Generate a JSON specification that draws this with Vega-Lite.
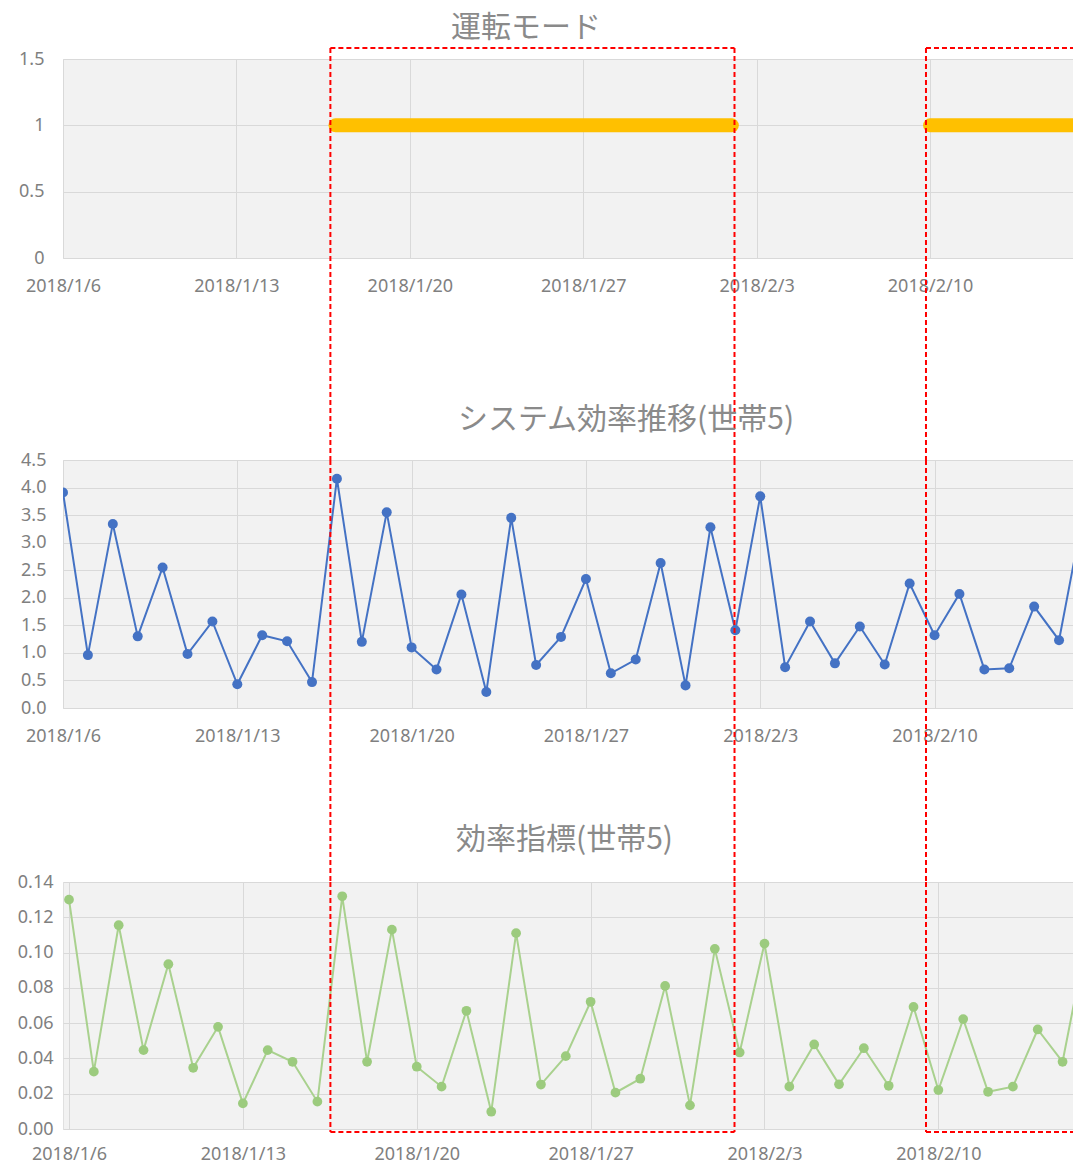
{
  "$schema": "https://vega.github.io/schema/vega-lite/v6.json",
  "padding": {"left": 0, "top": 12, "right": 0, "bottom": 0},
  "background": "white",
  "config": {
    "view": {"fill": "#f2f2f2", "stroke": "#e0e0e0"},
    "axis": {
      "domain": false, "ticks": false, "gridColor": "#d9d9d9", "gridWidth": 1,
      "labelColor": "#808080", "labelFont": "Noto Sans", "labelFontSize": 18,
      "title": null, "labelOverlap": false
    },
    "title": {"font": "Noto Sans CJK JP", "fontSize": 30, "fontWeight": "normal", "color": "#8a8a8a", "anchor": "start"}
  },
  "datasets": {
    "mode": [
      {"date": "2018/01/17", "mode": 1, "run": "a"},
      {"date": "2018/01/18", "mode": 1, "run": "a"},
      {"date": "2018/01/19", "mode": 1, "run": "a"},
      {"date": "2018/01/20", "mode": 1, "run": "a"},
      {"date": "2018/01/21", "mode": 1, "run": "a"},
      {"date": "2018/01/22", "mode": 1, "run": "a"},
      {"date": "2018/01/23", "mode": 1, "run": "a"},
      {"date": "2018/01/24", "mode": 1, "run": "a"},
      {"date": "2018/01/25", "mode": 1, "run": "a"},
      {"date": "2018/01/26", "mode": 1, "run": "a"},
      {"date": "2018/01/27", "mode": 1, "run": "a"},
      {"date": "2018/01/28", "mode": 1, "run": "a"},
      {"date": "2018/01/29", "mode": 1, "run": "a"},
      {"date": "2018/01/30", "mode": 1, "run": "a"},
      {"date": "2018/01/31", "mode": 1, "run": "a"},
      {"date": "2018/02/01", "mode": 1, "run": "a"},
      {"date": "2018/02/02", "mode": 1, "run": "a"},
      {"date": "2018/02/10", "mode": 1, "run": "b"},
      {"date": "2018/02/11", "mode": 1, "run": "b"},
      {"date": "2018/02/12", "mode": 1, "run": "b"},
      {"date": "2018/02/13", "mode": 1, "run": "b"},
      {"date": "2018/02/14", "mode": 1, "run": "b"},
      {"date": "2018/02/15", "mode": 1, "run": "b"},
      {"date": "2018/02/16", "mode": 1, "run": "b"}
    ],
    "eff": [
      {"date": "2018/01/06", "system": 3.91, "index": 0.130},
      {"date": "2018/01/07", "system": 0.96, "index": 0.0325},
      {"date": "2018/01/08", "system": 3.34, "index": 0.1155},
      {"date": "2018/01/09", "system": 1.30, "index": 0.0447},
      {"date": "2018/01/10", "system": 2.55, "index": 0.0934},
      {"date": "2018/01/11", "system": 0.98, "index": 0.0347},
      {"date": "2018/01/12", "system": 1.57, "index": 0.0579},
      {"date": "2018/01/13", "system": 0.43, "index": 0.0145},
      {"date": "2018/01/14", "system": 1.32, "index": 0.0447},
      {"date": "2018/01/15", "system": 1.21, "index": 0.0381},
      {"date": "2018/01/16", "system": 0.47, "index": 0.0155},
      {"date": "2018/01/17", "system": 4.16, "index": 0.1319},
      {"date": "2018/01/18", "system": 1.20, "index": 0.0381},
      {"date": "2018/01/19", "system": 3.55, "index": 0.113},
      {"date": "2018/01/20", "system": 1.10, "index": 0.0353},
      {"date": "2018/01/21", "system": 0.70, "index": 0.024},
      {"date": "2018/01/22", "system": 2.06, "index": 0.067},
      {"date": "2018/01/23", "system": 0.29, "index": 0.0098},
      {"date": "2018/01/24", "system": 3.45, "index": 0.111},
      {"date": "2018/01/25", "system": 0.78, "index": 0.0252},
      {"date": "2018/01/26", "system": 1.29, "index": 0.0413},
      {"date": "2018/01/27", "system": 2.34, "index": 0.0721},
      {"date": "2018/01/28", "system": 0.63, "index": 0.0206},
      {"date": "2018/01/29", "system": 0.88, "index": 0.0285},
      {"date": "2018/01/30", "system": 2.63, "index": 0.0811},
      {"date": "2018/01/31", "system": 0.41, "index": 0.0134},
      {"date": "2018/02/01", "system": 3.28, "index": 0.1021},
      {"date": "2018/02/02", "system": 1.41, "index": 0.0434},
      {"date": "2018/02/03", "system": 3.84, "index": 0.1051},
      {"date": "2018/02/04", "system": 0.74, "index": 0.024},
      {"date": "2018/02/05", "system": 1.57, "index": 0.0479},
      {"date": "2018/02/06", "system": 0.81, "index": 0.0253},
      {"date": "2018/02/07", "system": 1.48, "index": 0.0458},
      {"date": "2018/02/08", "system": 0.79, "index": 0.0245},
      {"date": "2018/02/09", "system": 2.26, "index": 0.0692},
      {"date": "2018/02/10", "system": 1.32, "index": 0.0221},
      {"date": "2018/02/11", "system": 2.07, "index": 0.0623},
      {"date": "2018/02/12", "system": 0.70, "index": 0.0211},
      {"date": "2018/02/13", "system": 0.72, "index": 0.024},
      {"date": "2018/02/14", "system": 1.84, "index": 0.0564},
      {"date": "2018/02/15", "system": 1.23, "index": 0.0381},
      {"date": "2018/02/16", "system": 3.6, "index": 0.11}
    ],
    "box_top_v": [
      {"date": "2018/01/16 19:03"},
      {"date": "2018/02/02 02:33"},
      {"date": "2018/02/09 20:04"}
    ],
    "box_top_h": [
      {"from": "2018/01/16 19:03", "to": "2018/02/02 02:33"},
      {"from": "2018/02/09 20:04", "to": "2018/02/15 18:30"}
    ],
    "box_mid_v": [
      {"date": "2018/01/16 17:43"},
      {"date": "2018/02/01 23:13"},
      {"date": "2018/02/09 15:46"}
    ],
    "box_bot_v": [
      {"date": "2018/01/16 12:34"},
      {"date": "2018/02/01 19:01"},
      {"date": "2018/02/09 12:03"}
    ],
    "box_bot_h": [
      {"from": "2018/01/16 12:34", "to": "2018/02/01 19:01"},
      {"from": "2018/02/09 12:03", "to": "2018/02/15 10:05"}
    ]
  },
  "bounds": "flush",
  "spacing": 202,
  "vconcat": [
    {
      "title": {"text": "運転モード", "dx": 450, "offset": 4},
      "width": 1010,
      "height": 199,
      "layer": [
        {
          "data": {"name": "mode"},
          "mark": {"type": "line", "color": "#ffc000", "strokeWidth": 14, "strokeCap": "round", "clip": true},
          "encoding": {
            "x": {
              "field": "date", "type": "temporal",
              "scale": {"domain": [{"year": 2018, "month": 1, "date": 6}, {"year": 2018, "month": 2, "date": 15, "hours": 18, "minutes": 30}], "nice": false},
              "axis": {
                "format": "%Y/%-m/%-d", "labelFlush": false, "labelPadding": 19,
                "values": [{"year": 2018, "month": 1, "date": 6}, {"year": 2018, "month": 1, "date": 13}, {"year": 2018, "month": 1, "date": 20}, {"year": 2018, "month": 1, "date": 27}, {"year": 2018, "month": 2, "date": 3}, {"year": 2018, "month": 2, "date": 10}]
              }
            },
            "y": {
              "field": "mode", "type": "quantitative",
              "scale": {"domain": [0, 1.5], "nice": false},
              "axis": {"values": [0, 0.5, 1, 1.5], "format": "~g", "labelPadding": 19, "minExtent": 62, "maxExtent": 62}
            },
            "detail": {"field": "run"}
          }
        },
        {
          "data": {"name": "box_top_v"},
          "mark": {"type": "rule", "color": "#ff0000", "strokeWidth": 2, "strokeDash": [5, 3]},
          "encoding": {
            "x": {"field": "date", "type": "temporal", "axis": {"format": "%Y/%-m/%-d", "labelFlush": false, "labelPadding": 19, "values": [{"year": 2018, "month": 1, "date": 6}, {"year": 2018, "month": 1, "date": 13}, {"year": 2018, "month": 1, "date": 20}, {"year": 2018, "month": 1, "date": 27}, {"year": 2018, "month": 2, "date": 3}, {"year": 2018, "month": 2, "date": 10}]}},
            "y": {"datum": 1.583, "type": "quantitative", "axis": {"values": [0, 0.5, 1, 1.5], "format": "~g", "labelPadding": 19, "minExtent": 62, "maxExtent": 62}},
            "y2": {"datum": -1.523}
          }
        },
        {
          "data": {"name": "box_top_h"},
          "mark": {"type": "rule", "color": "#ff0000", "strokeWidth": 2, "strokeDash": [5, 3]},
          "encoding": {
            "x": {"field": "from", "type": "temporal", "axis": {"format": "%Y/%-m/%-d", "labelFlush": false, "labelPadding": 19, "values": [{"year": 2018, "month": 1, "date": 6}, {"year": 2018, "month": 1, "date": 13}, {"year": 2018, "month": 1, "date": 20}, {"year": 2018, "month": 1, "date": 27}, {"year": 2018, "month": 2, "date": 3}, {"year": 2018, "month": 2, "date": 10}]}},
            "x2": {"field": "to"},
            "y": {"datum": 1.583, "type": "quantitative", "axis": {"values": [0, 0.5, 1, 1.5], "format": "~g", "labelPadding": 19, "minExtent": 62, "maxExtent": 62}}
          }
        }
      ]
    },
    {
      "bounds": "flush",
      "spacing": 174,
      "vconcat": [
        {
          "title": {"text": "システム効率推移(世帯5)", "dx": 457, "offset": 16},
          "width": 1010,
          "height": 248,
          "layer": [
            {
              "data": {"name": "eff"},
              "mark": {"type": "line", "color": "#4472c4", "strokeWidth": 2, "clip": true, "point": {"filled": true, "size": 100, "color": "#4472c4"}},
              "encoding": {
                "x": {
                  "field": "date", "type": "temporal",
                  "scale": {"domain": [{"year": 2018, "month": 1, "date": 6}, {"year": 2018, "month": 2, "date": 15, "hours": 13, "minutes": 27}], "nice": false},
                  "axis": {
                    "format": "%Y/%-m/%-d", "labelFlush": false, "labelPadding": 19,
                    "values": [{"year": 2018, "month": 1, "date": 6}, {"year": 2018, "month": 1, "date": 13}, {"year": 2018, "month": 1, "date": 20}, {"year": 2018, "month": 1, "date": 27}, {"year": 2018, "month": 2, "date": 3}, {"year": 2018, "month": 2, "date": 10}]
                  }
                },
                "y": {
                  "field": "system", "type": "quantitative",
                  "scale": {"domain": [0, 4.5], "nice": false},
                  "axis": {"values": [0, 0.5, 1, 1.5, 2, 2.5, 3, 3.5, 4, 4.5], "format": ".1f", "labelPadding": 17, "minExtent": 62, "maxExtent": 62}
                }
              }
            },
            {
              "data": {"name": "box_mid_v"},
              "mark": {"type": "rule", "color": "#ff0000", "strokeWidth": 2, "strokeDash": [5, 3]},
              "encoding": {
                "x": {"field": "date", "type": "temporal", "axis": {"format": "%Y/%-m/%-d", "labelFlush": false, "labelPadding": 19, "values": [{"year": 2018, "month": 1, "date": 6}, {"year": 2018, "month": 1, "date": 13}, {"year": 2018, "month": 1, "date": 20}, {"year": 2018, "month": 1, "date": 27}, {"year": 2018, "month": 2, "date": 3}, {"year": 2018, "month": 2, "date": 10}]}},
                "y": {"datum": 4.5, "type": "quantitative", "axis": {"values": [0, 0.5, 1, 1.5, 2, 2.5, 3, 3.5, 4, 4.5], "format": ".1f", "labelPadding": 17, "minExtent": 62, "maxExtent": 62}},
                "y2": {"datum": -3.157}
              }
            }
          ]
        },
        {
          "title": {"text": "効率指標(世帯5)", "dx": 455, "offset": 18},
          "width": 1010,
          "height": 247,
          "layer": [
            {
              "data": {"name": "eff"},
              "mark": {"type": "line", "color": "#a9d18e", "strokeWidth": 2, "clip": true, "point": {"filled": true, "size": 95, "color": "#9ccb7e"}},
              "encoding": {
                "x": {
                  "field": "date", "type": "temporal",
                  "scale": {"domain": [{"year": 2018, "month": 1, "date": 5, "hours": 18, "minutes": 12}, {"year": 2018, "month": 2, "date": 15, "hours": 10, "minutes": 5}], "nice": false},
                  "axis": {
                    "format": "%Y/%-m/%-d", "labelFlush": false, "labelPadding": 16,
                    "values": [{"year": 2018, "month": 1, "date": 6}, {"year": 2018, "month": 1, "date": 13}, {"year": 2018, "month": 1, "date": 20}, {"year": 2018, "month": 1, "date": 27}, {"year": 2018, "month": 2, "date": 3}, {"year": 2018, "month": 2, "date": 10}]
                  }
                },
                "y": {
                  "field": "index", "type": "quantitative",
                  "scale": {"domain": [0, 0.14], "nice": false},
                  "axis": {"values": [0, 0.02, 0.04, 0.06, 0.08, 0.1, 0.12, 0.14], "format": ".2f", "labelPadding": 10, "minExtent": 62, "maxExtent": 62}
                }
              }
            },
            {
              "data": {"name": "box_bot_v"},
              "mark": {"type": "rule", "color": "#ff0000", "strokeWidth": 2, "strokeDash": [5, 3]},
              "encoding": {
                "x": {"field": "date", "type": "temporal", "axis": {"format": "%Y/%-m/%-d", "labelFlush": false, "labelPadding": 16, "values": [{"year": 2018, "month": 1, "date": 6}, {"year": 2018, "month": 1, "date": 13}, {"year": 2018, "month": 1, "date": 20}, {"year": 2018, "month": 1, "date": 27}, {"year": 2018, "month": 2, "date": 3}, {"year": 2018, "month": 2, "date": 10}]}},
                "y": {"datum": 0.14, "type": "quantitative", "axis": {"values": [0, 0.02, 0.04, 0.06, 0.08, 0.1, 0.12, 0.14], "format": ".2f", "labelPadding": 10, "minExtent": 62, "maxExtent": 62}},
                "y2": {"datum": -0.0017}
              }
            },
            {
              "data": {"name": "box_bot_h"},
              "mark": {"type": "rule", "color": "#ff0000", "strokeWidth": 2, "strokeDash": [5, 3]},
              "encoding": {
                "x": {"field": "from", "type": "temporal", "axis": {"format": "%Y/%-m/%-d", "labelFlush": false, "labelPadding": 16, "values": [{"year": 2018, "month": 1, "date": 6}, {"year": 2018, "month": 1, "date": 13}, {"year": 2018, "month": 1, "date": 20}, {"year": 2018, "month": 1, "date": 27}, {"year": 2018, "month": 2, "date": 3}, {"year": 2018, "month": 2, "date": 10}]}},
                "x2": {"field": "to"},
                "y": {"datum": -0.0017, "type": "quantitative", "axis": {"values": [0, 0.02, 0.04, 0.06, 0.08, 0.1, 0.12, 0.14], "format": ".2f", "labelPadding": 10, "minExtent": 62, "maxExtent": 62}}
              }
            }
          ]
        }
      ]
    }
  ]
}
